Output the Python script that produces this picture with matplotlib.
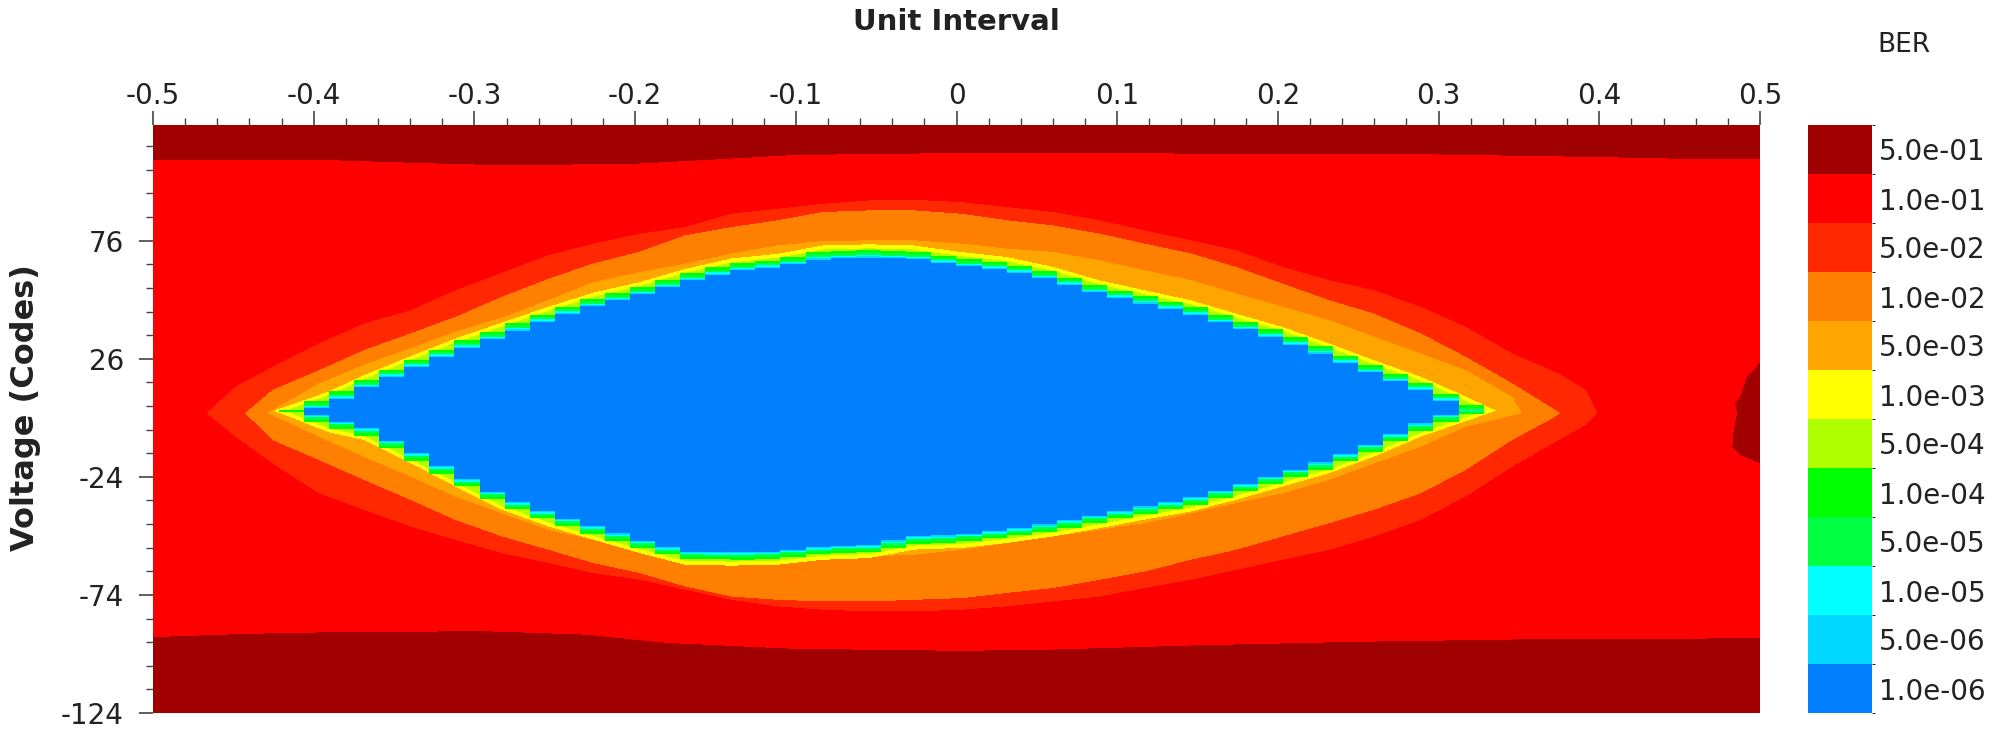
import numpy as np
import matplotlib
matplotlib.use("Agg")
import matplotlib.pyplot as plt
from matplotlib.colors import ListedColormap, BoundaryNorm
from matplotlib.ticker import FixedLocator, MultipleLocator

# ---------------- data ----------------
ber_labels = ["1.0e-06", "5.0e-06", "1.0e-05", "5.0e-05", "1.0e-04", "5.0e-04",
              "1.0e-03", "5.0e-03", "1.0e-02", "5.0e-02", "1.0e-01", "5.0e-01"]
ber_colors = ["#0080FF", "#00D8FF", "#00FFFF", "#00FF40", "#00FF00", "#B0FF00",
              "#FFFF00", "#FFA500", "#FF8000", "#FF2800", "#FF0000", "#A00000"]

x_ticks = [-0.5, -0.4, -0.3, -0.2, -0.1, 0.0, 0.1, 0.2, 0.3, 0.4, 0.5]
x_tick_labels = ["-0.5", "-0.4", "-0.3", "-0.2", "-0.1", "0", "0.1", "0.2", "0.3", "0.4", "0.5"]
y_ticks = [-124, -74, -24, 26, 76]
y_range = [-124, 125]
phase_steps = 64          # horizontal sampling of the measured BER (stair pattern)

# dark red (5e-01) bands at top / bottom of the eye
top_band_x = [-0.5, -0.4, -0.32, -0.28, -0.2, -0.16, -0.1, 0.0, 0.1, 0.2, 0.3, 0.4, 0.45, 0.5]
top_band_y = [110.5, 110.5, 108.8, 108.1, 108.8, 110.2, 112.5, 113.3, 113.3, 112.8, 112.7, 111.6, 110.9, 110.9]
bot_band_x = [-0.5, -0.44, -0.37, -0.29, -0.23, -0.18, -0.1, 0.0, 0.05, 0.15, 0.25, 0.35, 0.5]
bot_band_y = [-92.0, -90.6, -89.7, -89.6, -91.0, -94.5, -97.0, -97.8, -97.5, -95.5, -94.0, -93.0, -92.5]

# dark red bump on the right edge (left edge x as a function of voltage)
bump_y = [-18.3, -14.8, -11.2, -4.2, 2.9, 7.2, 9.9, 18.4, 24.1]
bump_x = [0.5, 0.488, 0.483, 0.484, 0.486, 0.485, 0.488, 0.492, 0.5]

# eye contour 5.0e-02 (outer edge of the red-orange ring)
c5e2_x = [-0.467, -0.449, -0.426, -0.397, -0.369, -0.340, -0.312, -0.283, -0.254, -0.226, -0.197,
          -0.169, -0.140, -0.111, -0.083, -0.054, -0.026, 0.003, 0.031, 0.060, 0.089, 0.117,
          0.146, 0.174, 0.203, 0.232, 0.260, 0.289, 0.317, 0.346, 0.375, 0.392, 0.399]
c5e2_up = [3, 14.2, 22.6, 32.5, 41.0, 46.6, 55.1, 62.5, 70.0, 74.9, 79.1, 81.9, 87.6, 89.7, 91.8,
           93.2, 93.5, 92.5, 90.4, 88.3, 84.8, 80.5, 76.3, 72.1, 65.0, 59.4, 55.1, 48.1, 39.6,
           28.3, 19.8, 12.8, 3]
c5e2_lo = [3, -7.0, -18.3, -31.0, -38.0, -45.1, -50.8, -56.4, -60.6, -64.9, -67.7, -71.9, -76.2,
           -79.0, -80.4, -81.1, -81.1, -80.4, -79.0, -76.9, -74.8, -71.2, -67.7, -63.5, -59.2,
           -55.0, -49.3, -42.3, -32.4, -19.7, -8.4, -2.0, 3]

# eye contour 1.0e-02 (outer edge of the orange ring)
c1e2_x = [-0.443, -0.426, -0.397, -0.369, -0.340, -0.312, -0.283, -0.254, -0.226, -0.197, -0.169,
          -0.140, -0.111, -0.083, -0.054, -0.026, 0.003, 0.031, 0.060, 0.089, 0.117, 0.146,
          0.174, 0.203, 0.232, 0.260, 0.289, 0.317, 0.346, 0.369, 0.376]
c1e2_up = [3, 12.8, 21.2, 29.7, 36.8, 43.8, 52.3, 60.0, 66.5, 71.5, 78.4, 81.9, 84.8, 88.3, 89.0,
           89.0, 87.6, 84.8, 82.6, 79.1, 74.9, 70.7, 65.0, 57.9, 50.9, 45.2, 36.8, 26.9, 15.6, 6.0, 3]
c1e2_lo = [3, -8.4, -16.9, -25.3, -33.8, -42.3, -49.3, -55.0, -60.6, -64.9, -70.5, -74.8, -76.2,
           -76.9, -76.9, -76.2, -75.5, -73.3, -71.2, -67.7, -64.2, -59.2, -55.0, -49.3, -43.7,
           -38.0, -31.0, -21.1, -8.4, 0.0, 3]

# eye contour 5.0e-03 (outer edge of the light orange ring)
c5e3_x = [-0.429, -0.397, -0.369, -0.340, -0.312, -0.283, -0.254, -0.226, -0.197, -0.169, -0.140,
          -0.111, -0.083, -0.054, -0.026, 0.003, 0.031, 0.060, 0.089, 0.117, 0.146, 0.174,
          0.203, 0.232, 0.260, 0.289, 0.317, 0.346, 0.352]
c5e3_up = [3, 15.5, 23.5, 30.5, 37.5, 43.5, 51.0, 58.5, 62.8, 66.4, 70.7, 74.2, 76.0, 76.3, 76.3,
           74.9, 72.8, 71.4, 67.8, 63.6, 59.4, 53.7, 48.1, 42.4, 35.4, 28.3, 21.2, 9.9, 3]
c5e3_lo = [3, -7.0, -15.5, -23.9, -32.4, -39.5, -46.5, -50.8, -55.0, -59.2, -61.3, -60.6, -59.2,
           -57.8, -57.1, -55.0, -52.2, -49.3, -46.5, -43.7, -39.5, -35.2, -31.0, -25.3, -18.3,
           -11.2, -2.8, 2.0, 3]

# eye contour 1.0e-06 (edge of the open blue eye)
c1e6_x = [-0.405, -0.391, -0.369, -0.340, -0.312, -0.283, -0.254, -0.226, -0.197, -0.169, -0.140,
          -0.111, -0.083, -0.054, -0.026, 0.003, 0.031, 0.060, 0.089, 0.117, 0.146, 0.174,
          0.203, 0.232, 0.260, 0.289, 0.312, 0.316]
c1e6_up = [4, 6.5, 13.5, 21.5, 29.0, 35.8, 42.5, 48.5, 53.0, 58.5, 63.0, 65.0, 68.5, 69.0, 68.5,
           65.7, 63.6, 59.4, 53.7, 49.5, 45.2, 39.6, 33.9, 26.9, 19.8, 12.8, 6.0, 4]
c1e6_lo = [4, 0.5, -2.8, -12.6, -22.5, -32.4, -39.5, -45.1, -50.8, -55.7, -56.1, -55.7, -53.6,
           -52.9, -49.3, -48.6, -46.5, -43.7, -40.2, -36.6, -33.1, -28.2, -22.5, -16.9, -9.8,
           -1.4, 4.0, 4]

# thin rings between the blue eye and the light orange ring:
# width (codes) and tip extension (UI) outside the 1.0e-06 contour, and
# whether the ring follows the stair-stepped phase sampling
ring_levels = [6, 5, 4, 3, 2, 1]          # 1e-03, 5e-04, 1e-04, 5e-05, 1e-05, 5e-06
ring_width = [5.6, 3.9, 3.1, 2.2, 1.1, 0.5]
ring_tip_ext = [0.020, 0.013, 0.011, 0.008, 0.005, 0.002]
ring_stepped = [False, False, True, True, True, True]

# ---------------- build the level map ----------------
nx, ny = 1606, 588
xs = np.linspace(-0.5, 0.5, nx)
ys = np.linspace(y_range[0], y_range[1], ny)
X, Y = np.meshgrid(xs, ys)
step = 1.0 / phase_steps
xs_q = -0.5 + (np.floor((xs + 0.5) / step) + 0.5) * step


def inside(cx, cup, clo, xe=xs):
    cx = np.asarray(cx, float)
    up = np.interp(xe, cx, cup)
    lo = np.interp(xe, cx, clo)
    okx = (xe >= cx[0]) & (xe <= cx[-1])
    return okx[None, :] & (Y <= up[None, :]) & (Y >= lo[None, :])


Z = np.full((ny, nx), 10)
Z[Y > np.interp(xs, top_band_x, top_band_y)[None, :]] = 11
Z[Y < np.interp(xs, bot_band_x, bot_band_y)[None, :]] = 11
bmask = (Y >= bump_y[0]) & (Y <= bump_y[-1]) & (X >= np.interp(ys, bump_y, bump_x)[:, None])
Z[bmask] = 11

Z[inside(c5e2_x, c5e2_up, c5e2_lo)] = 9
Z[inside(c1e2_x, c1e2_up, c1e2_lo)] = 8
Z[inside(c5e3_x, c5e3_up, c5e3_lo)] = 7
bx = np.array(c1e6_x, float)
bu = np.array(c1e6_up, float)
bl = np.array(c1e6_lo, float)
for lev, w, ext, stp in zip(ring_levels, ring_width, ring_tip_ext, ring_stepped):
    rx = bx.copy()
    rx[0] -= ext
    rx[-1] += ext
    ru = bu.copy()
    rl = bl.copy()
    ru[1:-1] += w
    rl[1:-1] -= w
    Z[inside(rx, ru, rl, xs_q if stp else xs)] = lev
Z[inside(c1e6_x, c1e6_up, c1e6_lo, xs_q)] = 0

# ---------------- draw ----------------
plt.rcParams["font.family"] = ["DejaVu Sans"]
fig = plt.figure(figsize=(20.13, 7.31), dpi=100)
ax = fig.add_axes([153 / 2013, 1 - 713 / 731, 1607 / 2013, 588 / 731])
cmap = ListedColormap(ber_colors)
norm = BoundaryNorm(np.arange(-0.5, len(ber_colors) + 0.5, 1), cmap.N)
im = ax.imshow(Z, origin="lower", extent=[-0.5, 0.5, y_range[0], y_range[1]],
               aspect="auto", cmap=cmap, norm=norm, interpolation="nearest")
ax.set_xlim(-0.5, 0.5)
ax.set_ylim(y_range[0], y_range[1])

ax.xaxis.tick_top()
ax.set_xticks(x_ticks)
ax.set_xticklabels(x_tick_labels)
ax.xaxis.set_minor_locator(MultipleLocator(0.02))
ax.set_yticks(y_ticks)
ax.set_yticklabels([str(v) for v in y_ticks])
ax.yaxis.set_minor_locator(FixedLocator(np.arange(y_ticks[0], y_range[1] + 1, 10)))
ax.tick_params(which="major", direction="out", length=10, width=1.2, color="#444444",
               labelsize=20, labelcolor="#222222")
ax.tick_params(which="minor", direction="out", length=5, width=1.0, color="#444444")
ax.tick_params(axis="x", which="major", pad=1)
ax.tick_params(axis="y", which="major", pad=11)
for s in ax.spines.values():
    s.set_visible(False)

fig.text(956 / 2013, 1 - 22 / 731, "Unit Interval", ha="center", va="center",
         fontsize=21, fontweight="bold", color="#222222")
fig.text(26 / 2013, 1 - 408 / 731, "Voltage (Codes)", ha="center", va="center",
         rotation=90, fontsize=23, fontweight="bold", color="#222222")
fig.text(1904 / 2013, 1 - 45 / 731, "BER", ha="center", va="center",
         fontsize=19, color="#222222")

cax = fig.add_axes([1808 / 2013, 1 - 713 / 731, 64 / 2013, 588 / 731])
cb = fig.colorbar(im, cax=cax, ticks=np.arange(len(ber_labels)))
cb.ax.set_yticklabels(ber_labels)
cb.ax.tick_params(length=0, labelsize=20, labelcolor="#222222", pad=5)
cb.outline.set_visible(False)

fig.savefig("out.png", dpi=100)
